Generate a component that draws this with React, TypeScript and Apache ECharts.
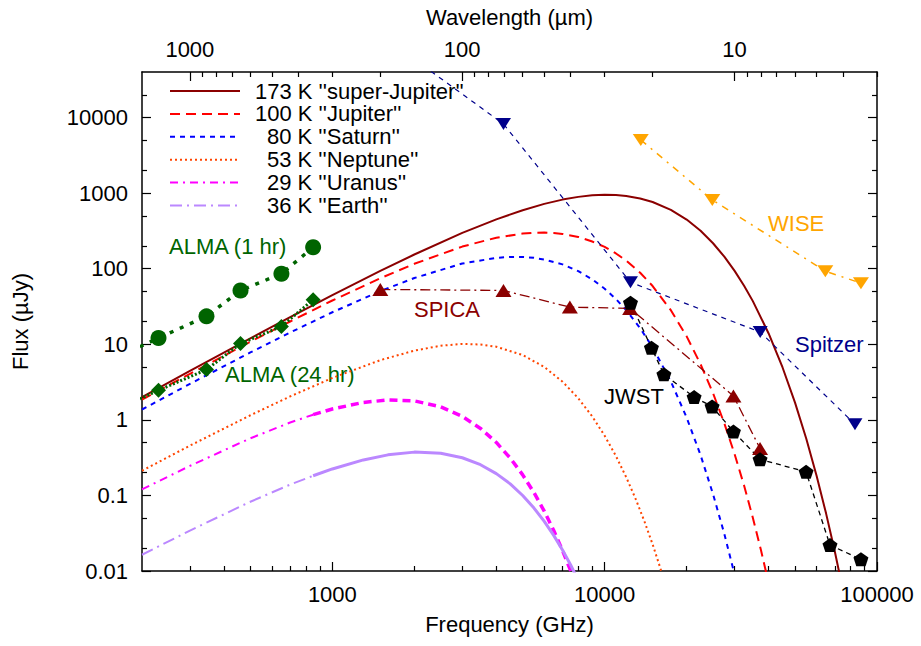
import React, { useEffect, useRef } from 'react';
import * as echarts from 'echarts';

const FONT = '"Liberation Sans", Arial, Helvetica, sans-serif';

// ---- axis ticks / labels ----
const xMajor = [1000, 10000, 100000];
const xMinor = [300, 400, 500, 600, 700, 800, 900, 2000, 3000, 4000, 5000, 6000, 7000, 8000, 9000, 20000, 30000, 40000, 50000, 60000, 70000, 80000, 90000];
const wlMajor = [10, 100, 1000];
const wlMinor = [3, 4, 5, 6, 7, 8, 9, 20, 30, 40, 50, 60, 70, 80, 90, 200, 300, 400, 500, 600, 700, 800, 900];
const yMajor = [0.01, 0.1, 1, 10, 100, 1000, 10000];
const yMinor = [0.02, 0.05, 0.2, 0.5, 2, 5, 20, 50, 200, 500, 2000, 5000, 20000];

// ---- model curves (frequency in GHz, flux in µJy) ----
const names = [
  "173 K ''super-Jupiter''",
  "100 K ''Jupiter''",
  "80 K ''Saturn''",
  "53 K ''Neptune''",
  "29 K ''Uranus''",
  "36 K ''Earth''",
];

const freqSuperJupiter = [200, 300, 500, 700, 1000, 1500, 2000, 3000, 4000, 5000, 6000, 7000, 8000, 9000, 10000, 11000, 12000, 13500, 15000, 17500, 20000, 22500, 25000, 27500, 30000, 32500, 35000, 40000, 45000, 50000, 55000, 60000, 65000, 70000, 75000];
const fluxSuperJupiter = [2.0, 4.44, 12.0, 22.8, 44.6, 93.3, 154, 297, 449, 594, 720, 820, 891, 934, 950, 943, 916, 850, 763, 601, 446, 317, 217, 144, 93.6, 59.5, 37.2, 13.9, 4.93, 1.69, 0.562, 0.182, 0.0579, 0.0181, 0.00555];

const freqJupiter = [200, 300, 500, 700, 1000, 1500, 2000, 3000, 4000, 5000, 5500, 6000, 6500, 7000, 8000, 9000, 10000, 11000, 12000, 13500, 15000, 17500, 20000, 22500, 25000, 27500, 30000, 32500, 35000, 37500, 40000];
const fluxJupiter = [1.85, 4.07, 10.8, 20.0, 37.9, 74.7, 116, 196, 257, 291, 298, 300, 296, 288, 263, 229, 194, 159, 128, 88.3, 58.9, 28.2, 12.7, 5.43, 2.25, 0.900, 0.352, 0.135, 0.0508, 0.0188, 0.00688];

const freqSaturn = [200, 300, 500, 700, 1000, 1500, 2000, 3000, 4000, 4500, 5000, 5500, 6000, 7000, 8000, 9000, 10000, 11000, 12000, 13500, 15000, 17500, 20000, 22500, 25000, 27500, 30000, 32000];
const fluxSaturn = [1.37, 2.99, 7.79, 14.3, 26.5, 50.4, 75.2, 117, 139, 143, 143, 139, 132, 114, 92.7, 72.2, 54.3, 39.6, 28.2, 16.3, 9.09, 3.22, 1.07, 0.341, 0.104, 0.0310, 0.00899, 0.00329];

const freqNeptune = [200, 300, 500, 700, 1000, 1500, 2000, 2500, 3000, 3500, 4000, 5000, 6000, 7000, 8000, 9000, 10000, 11000, 12000, 13000, 14000, 15000, 16000, 17000];
const fluxNeptune = [0.212, 0.456, 1.15, 2.04, 3.58, 6.16, 8.24, 9.56, 10.1, 9.92, 9.27, 7.20, 5.00, 3.20, 1.93, 1.11, 0.616, 0.332, 0.174, 0.0895, 0.0452, 0.0225, 0.0110, 0.00535];

const freqUranusLow = [200, 300, 500, 700, 850];
const fluxUranusLow = [0.120, 0.246, 0.570, 0.921, 1.17];
const freqUranusHigh = [850, 1000, 1300, 1600, 2000, 2500, 3000, 3500, 4000, 4500, 5000, 5500, 6000, 6500, 7000, 7500, 8000];
const fluxUranusHigh = [1.17, 1.39, 1.70, 1.83, 1.78, 1.49, 1.11, 0.770, 0.502, 0.312, 0.187, 0.109, 0.0618, 0.0343, 0.0187, 0.0101, 0.00535];

const freqEarthLow = [200, 300, 500, 700, 850];
const fluxEarthLow = [0.0164, 0.0343, 0.0825, 0.139, 0.182];
const freqEarthHigh = [850, 1000, 1300, 1600, 2000, 2500, 3000, 3500, 4000, 4500, 5000, 5500, 6000, 6500, 7000, 7500, 8000];
const fluxEarthHigh = [0.182, 0.224, 0.295, 0.344, 0.374, 0.361, 0.315, 0.255, 0.194, 0.142, 0.0997, 0.0680, 0.0454, 0.0296, 0.0190, 0.0120, 0.00748];

// ---- instrument sensitivities ----
const freqALMA = [100, 230, 345, 460, 650, 850];
const fluxALMA1hr = [3.0, 12.1, 23.4, 51.5, 85.6, 192];
const fluxALMA24hr = [0.62, 2.46, 4.62, 10.2, 17.2, 38.8];

const freqSPICA = [1500, 4250, 7450, 12400, 29700, 37200];
const fluxSPICA = [53.1, 51.5, 31.0, 29.8, 2.07, 0.418];

const freqJWST = [12440, 14850, 16500, 21300, 24800, 29700, 37200, 54900, 67200, 87300];
const fluxJWST = [35.4, 9.0, 4.0, 2.0, 1.5, 0.70, 0.30, 0.205, 0.022, 0.0143];

const freqSpitzer = [1874, 4250, 12440, 37240, 83000];
const fluxSpitzer = [70000, 8200, 66, 14.5, 0.875];

const freqWISE = [13570, 24840, 64600, 87300];
const fluxWISE = [5050, 813, 92.7, 64.3];

const pairs = (xs: number[], ys: number[]) => xs.map((x, i) => [x, ys[i]]);

const fmt = (v: number) => (v >= 1 ? String(Math.round(v)) : String(Number(v.toPrecision(2))));

const PENTAGON = 'path://M0,-10L9.511,-3.09L5.878,8.09L-5.878,8.09L-9.511,-3.09Z';
const DOWN_TRI = 'path://M0,0L10,0L5,8.66Z';

export default function App() {
  const ref = useRef<HTMLDivElement>(null);
  useEffect(() => {
    if (!ref.current) return;
    const chart = echarts.init(ref.current, undefined, { renderer: 'svg' });
    const black = '#000';
    const axisLine = { show: true, onZero: false, lineStyle: { color: black, width: 1.5 } };
    const textBase = { fontFamily: FONT, fontSize: 22, color: black };

    const mkAxis = (extra: any) => ({
      type: 'log',
      logBase: 10,
      splitLine: { show: false },
      minorTick: { show: false },
      ...extra,
    });

    const majorTick = (vals: number[]) => ({ show: true, inside: true, length: 9, customValues: vals, lineStyle: { color: black, width: 1.2 } });
    const minorTick = (vals: number[]) => ({ show: true, inside: true, length: 5, customValues: vals, lineStyle: { color: black, width: 1.2 } });

    const modelLine = (name: string, xs: number[], ys: number[], color: string, type: any, width: number) => ({
      name,
      type: 'line',
      data: pairs(xs, ys),
      xAxisIndex: 0,
      yAxisIndex: 0,
      symbol: 'none',
      smooth: false,
      clip: true,
      lineStyle: { color, type, width },
      itemStyle: { color },
      z: 2,
    });

    const dataLine = (name: string, xs: number[], ys: number[], color: string, type: any, width: number, symbol: string, size: any) => ({
      name,
      type: 'line',
      data: pairs(xs, ys),
      xAxisIndex: 0,
      yAxisIndex: 0,
      symbol,
      symbolSize: size,
      symbolKeepAspect: false,
      showAllSymbol: true,
      clip: true,
      lineStyle: { color, type, width },
      itemStyle: { color, borderWidth: 0 },
      z: 3,
    });

    const option: any = {
      animation: false,
      backgroundColor: '#fff',
      grid: { left: 142, top: 72, right: 44, bottom: 75, containLabel: false },
      legend: {
        show: true,
        data: names,
        orient: 'vertical',
        left: 169,
        top: 80,
        padding: 0,
        itemWidth: 70,
        itemHeight: 14,
        itemGap: 0.9,
        selectedMode: false,
        itemStyle: { opacity: 0 },
        formatter: (n: string) => (/^\d{3}/.test(n) ? `{a|${n}}` : `{b|${n}}`),
        textStyle: {
          ...textBase,
          rich: {
            a: { ...textBase, padding: [0, 0, 0, 10], lineHeight: 22 },
            b: { ...textBase, padding: [0, 0, 0, 22], lineHeight: 22 },
          },
        },
      },
      xAxis: [
        mkAxis({
          min: 200, max: 100000, position: 'bottom',
          axisLine,
          axisTick: majorTick(xMajor),
          axisLabel: { show: true, customValues: xMajor, formatter: fmt, margin: 12, ...textBase },
          name: 'Frequency (GHz)', nameLocation: 'middle', nameGap: 42, nameTextStyle: textBase,
        }),
        mkAxis({
          min: 200, max: 100000, position: 'bottom',
          axisLine: { show: false },
          axisTick: minorTick(xMinor),
          axisLabel: { show: false },
        }),
        mkAxis({
          min: 2.99792458, max: 1498.96229, inverse: true, position: 'top',
          axisLine,
          axisTick: majorTick(wlMajor),
          axisLabel: { show: true, customValues: wlMajor, formatter: fmt, margin: 12, ...textBase },
          name: 'Wavelength (µm)', nameLocation: 'middle', nameGap: 44, nameTextStyle: textBase,
        }),
        mkAxis({
          min: 2.99792458, max: 1498.96229, inverse: true, position: 'top',
          axisLine: { show: false },
          axisTick: minorTick(wlMinor),
          axisLabel: { show: false },
        }),
      ],
      yAxis: [
        mkAxis({
          min: 0.01, max: 40000, position: 'left',
          axisLine,
          axisTick: majorTick(yMajor),
          axisLabel: { show: true, customValues: yMajor, formatter: fmt, margin: 14, ...textBase },
          name: 'Flux (µJy)', nameLocation: 'middle', nameGap: 111, nameTextStyle: textBase,
        }),
        mkAxis({
          min: 0.01, max: 40000, position: 'left',
          axisLine: { show: false },
          axisTick: minorTick(yMinor),
          axisLabel: { show: false },
        }),
        mkAxis({
          min: 0.01, max: 40000, position: 'right',
          axisLine,
          axisTick: majorTick(yMajor),
          axisLabel: { show: false },
        }),
        mkAxis({
          min: 0.01, max: 40000, position: 'right',
          axisLine: { show: false },
          axisTick: minorTick(yMinor),
          axisLabel: { show: false },
        }),
      ],
      series: [
        modelLine(names[0], freqSuperJupiter, fluxSuperJupiter, '#8b0000', 'solid', 2),
        modelLine(names[1], freqJupiter, fluxJupiter, '#ff0000', [10, 6], 2),
        modelLine(names[2], freqSaturn, fluxSaturn, '#0000ff', [5, 5], 2),
        modelLine(names[3], freqNeptune, fluxNeptune, '#ff4500', [2, 3], 2),
        modelLine(names[4], freqUranusLow, fluxUranusLow, '#ff00ff', [8, 5, 2, 5], 2),
        modelLine(names[5], freqEarthLow, fluxEarthLow, '#bb88ff', [12, 5, 2, 5], 2),
        modelLine('29 K (high)', freqUranusHigh, fluxUranusHigh, '#ff00ff', [8, 5], 3.5),
        modelLine('36 K (high)', freqEarthHigh, fluxEarthHigh, '#bb88ff', 'solid', 3),
        dataLine('ALMA (1 hr)', freqALMA, fluxALMA1hr, '#006400', [4, 7], 3.5, 'circle', 16),
        dataLine('ALMA (24 hr)', freqALMA, fluxALMA24hr, '#006400', [2, 2], 3, 'diamond', 15),
        dataLine('SPICA', freqSPICA, fluxSPICA, '#8b0000', [10, 4, 2, 4], 1.3, 'triangle', [16, 13]),
        dataLine('JWST', freqJWST, fluxJWST, '#000000', [5, 4], 1.3, PENTAGON, [15, 14]),
        dataLine('Spitzer', freqSpitzer, fluxSpitzer, '#00008b', [5, 5], 1.2, DOWN_TRI, [15, 12]),
        dataLine('WISE', freqWISE, fluxWISE, '#ffa500', [7, 6, 2, 6], 1.5, DOWN_TRI, [16, 12]),
      ],
      graphic: [
        { type: 'text', x: 169, y: 246, style: { text: 'ALMA (1 hr)', fill: '#006400', fontSize: 22, fontFamily: FONT, textAlign: 'left', textVerticalAlign: 'middle', verticalAlign: 'middle' } },
        { type: 'text', x: 225, y: 374, style: { text: 'ALMA (24 hr)', fill: '#006400', fontSize: 22, fontFamily: FONT, textAlign: 'left', textVerticalAlign: 'middle', verticalAlign: 'middle' } },
        { type: 'text', x: 414, y: 309, style: { text: 'SPICA', fill: '#8b0000', fontSize: 22, fontFamily: FONT, textAlign: 'left', textVerticalAlign: 'middle', verticalAlign: 'middle' } },
        { type: 'text', x: 604, y: 396, style: { text: 'JWST', fill: '#000000', fontSize: 22, fontFamily: FONT, textAlign: 'left', textVerticalAlign: 'middle', verticalAlign: 'middle' } },
        { type: 'text', x: 795, y: 344, style: { text: 'Spitzer', fill: '#00008b', fontSize: 22, fontFamily: FONT, textAlign: 'left', textVerticalAlign: 'middle', verticalAlign: 'middle' } },
        { type: 'text', x: 768, y: 223, style: { text: 'WISE', fill: '#ffa500', fontSize: 22, fontFamily: FONT, textAlign: 'left', textVerticalAlign: 'middle', verticalAlign: 'middle' } },
      ],
    };
    chart.setOption(option);
    return () => chart.dispose();
  }, []);
  return <div ref={ref} style={{ position: 'absolute', left: 0, top: 0, width: 921, height: 646 }} />;
}
